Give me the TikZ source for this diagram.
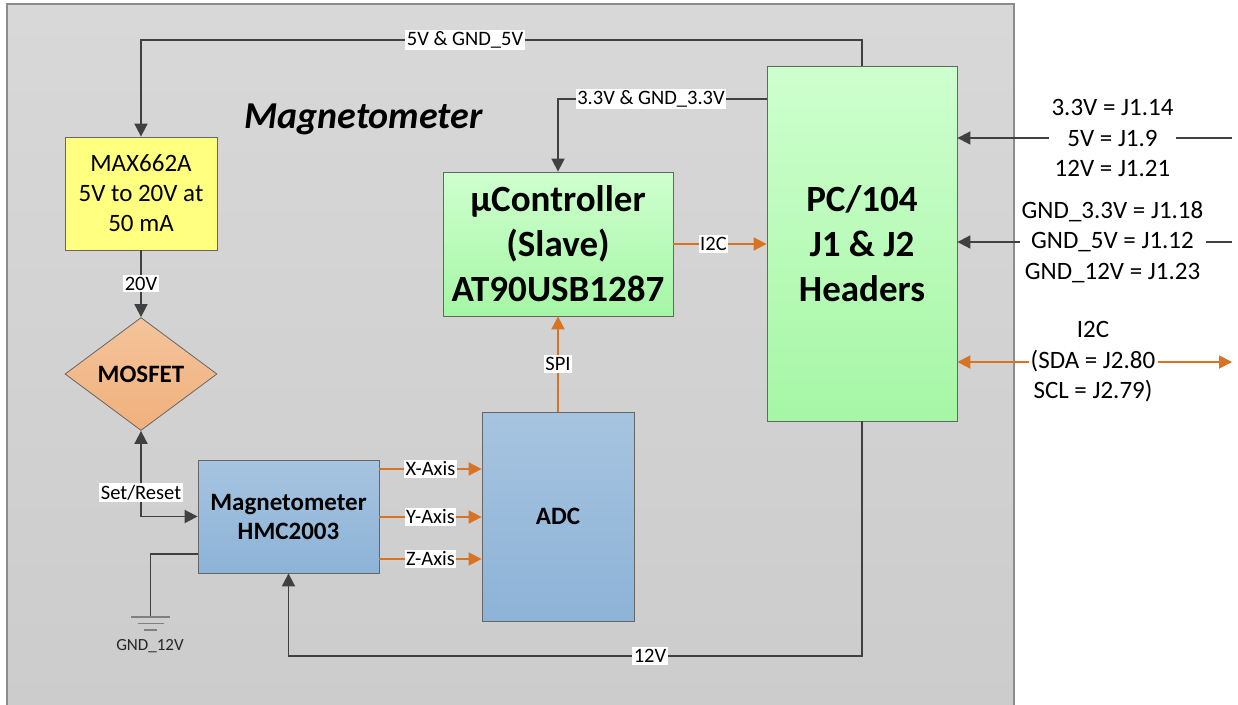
\documentclass[tikz,border=0pt]{standalone}
\usepackage{fontspec}
\setmainfont{Carlito}
\usetikzlibrary{arrows.meta,shapes.geometric}

\definecolor{wire}{HTML}{404040}
\definecolor{sig}{RGB}{215,115,35}
\definecolor{panelTop}{RGB}{216,216,216}
\definecolor{panelBot}{RGB}{204,204,204}
\definecolor{yelFill}{RGB}{255,255,128}
\definecolor{grnTop}{RGB}{206,255,206}
\definecolor{grnBot}{RGB}{166,246,166}
\definecolor{bluTop}{RGB}{166,196,224}
\definecolor{bluBot}{RGB}{141,179,215}
\definecolor{orgTop}{RGB}{244,196,155}
\definecolor{orgBot}{RGB}{240,176,124}

\tikzset{
  wtip/.tip={Triangle[length=13pt,width=13pt]},
  blk/.style={draw=black!60, line width=0.8pt, align=center, inner sep=0pt},
  yelblk/.style={blk, fill=yelFill, font=\fontsize{25}{30}\selectfont},
  grnblk/.style={blk, top color=grnTop, bottom color=grnBot, font=\fontsize{37}{45}\selectfont\bfseries},
  blublk/.style={blk, top color=bluTop, bottom color=bluBot, font=\fontsize{25}{29}\selectfont\bfseries},
  lbl/.style={fill=white, inner xsep=1.5pt, inner ysep=2pt, font=\fontsize{20.5}{24}\selectfont},
  note/.style={align=center, inner xsep=2pt, inner ysep=0pt, font=\fontsize{25}{30.5}\selectfont},
  pwr/.style={draw=wire, line width=1.8pt, -wtip},
  dat/.style={draw=sig, line width=1.8pt, -wtip},
}

\begin{document}
\begin{tikzpicture}[x=1pt,y=1pt]
  \useasboundingbox (0,0) rectangle (1238,-704);
  % board outline
  \draw[draw=black!45, line width=1.5pt, top color=panelTop, bottom color=panelBot]
    (7,-4) rectangle (1014,-712);
  \node[font=\fontsize{38}{44}\selectfont\bfseries\itshape] (title) at (363.5,-119) {Magnetometer};

  % blocks
  \node[yelblk, minimum width=152pt, minimum height=113pt] (max) at (141,-193.5) {MAX662A\\5V to 20V at\\50 mA};
  \node[diamond, draw=black!60, line width=0.8pt, top color=orgTop, bottom color=orgBot,
        aspect=1.33, inner sep=0pt, minimum width=152pt, minimum height=113pt,
        font=\fontsize{25}{29}\selectfont\bfseries] (mosfet) at (141,-374) {MOSFET};
  \node[blublk, minimum width=181pt, minimum height=113pt] (hmc) at (288.5,-516.5) {Magnetometer\\HMC2003};
  \node[blublk, minimum width=152pt, minimum height=209pt] (adc) at (558,-516.5) {ADC};
  \node[grnblk, minimum width=230pt, minimum height=144pt] (mcu) at (558,-244) {µController\\(Slave)\\AT90USB1287};
  \node[grnblk, minimum width=190pt, minimum height=355pt] (pc) at (862,-243.5) {PC/104\\J1 \& J2\\Headers};

  % power rails
  \coordinate (v5) at (141,-40);
  \draw[pwr] (pc.north) |- (v5) -- (max.north);
  \node[lbl] (l5v) at (465,-40) {5V \& GND\_5V};
  \coordinate (v33) at (558,-99);
  \draw[pwr] (pc.west |- v33) -- (v33) -- (mcu.north);
  \node[lbl] (l33) at (651,-99) {3.3V \& GND\_3.3V};
  \draw[pwr] (max.south) -- node[lbl] (l20) {20V} (mosfet.north);
  \draw[pwr, wtip-wtip] (mosfet.south) |- node[lbl, pos=0.36] (lsr) {Set/Reset} (hmc.west);
  \coordinate (v12) at (288.5,-656);
  \draw[pwr] (pc.south) |- (v12) -- (hmc.south);
  \node[lbl] (l12) at (650,-656) {12V};

  % ground
  \coordinate (gtap) at (198,-554);
  \coordinate (gnd) at (150.5,-617);
  \draw[draw=wire, line width=1.2pt] (gtap) -| (gnd);
  \draw[draw=black!50, line width=1.2pt] (131,-617) -- (170,-617)
    (137.5,-623.5) -- (163.5,-623.5) (144,-630) -- (157,-630);
  \node[font=\fontsize{17}{20}\selectfont, text=black!85] (lgnd) at (150,-646) {GND\_12V};

  % signals
  \foreach \yy/\ax in {469/X,517/Y,559/Z}
    \draw[dat] (hmc.east |- 0,-\yy) -- node[lbl] (l\ax) {\ax-Axis} (adc.west |- 0,-\yy);
  \draw[dat] (adc.north) -- node[lbl] (lspi) {SPI} (mcu.south);
  \draw[dat] (mcu.east) -- node[lbl, pos=0.43] (li2c) {I2C} (pc.west |- mcu.east);

  % header pinout
  \coordinate (rend) at (1232,0);
  \node[note] (rails) at (1112.5,-138) {3.3V = J1.14\\5V = J1.9\\12V = J1.21};
  \draw[pwr] (rails.west) -- (pc.east |- rails.west);
  \draw[draw=wire, line width=1.8pt] (rails.east) -- (rend |- rails.east);
  \node[note] (gnds) at (1112.5,-242) {GND\_3.3V = J1.18\\GND\_5V = J1.12\\GND\_12V = J1.23};
  \draw[pwr] (gnds.west) -- (pc.east |- gnds.west);
  \draw[draw=wire, line width=1.8pt] (gnds.east) -- (rend |- gnds.east);
  \node[note] (bus) at (1093,-362) {I2C\\(SDA = J2.80\\SCL = J2.79)};
  \draw[dat] (bus.west) -- (pc.east |- bus.west);
  \draw[dat] (bus.east) -- (rend |- bus.east);
\end{tikzpicture}
\end{document}
